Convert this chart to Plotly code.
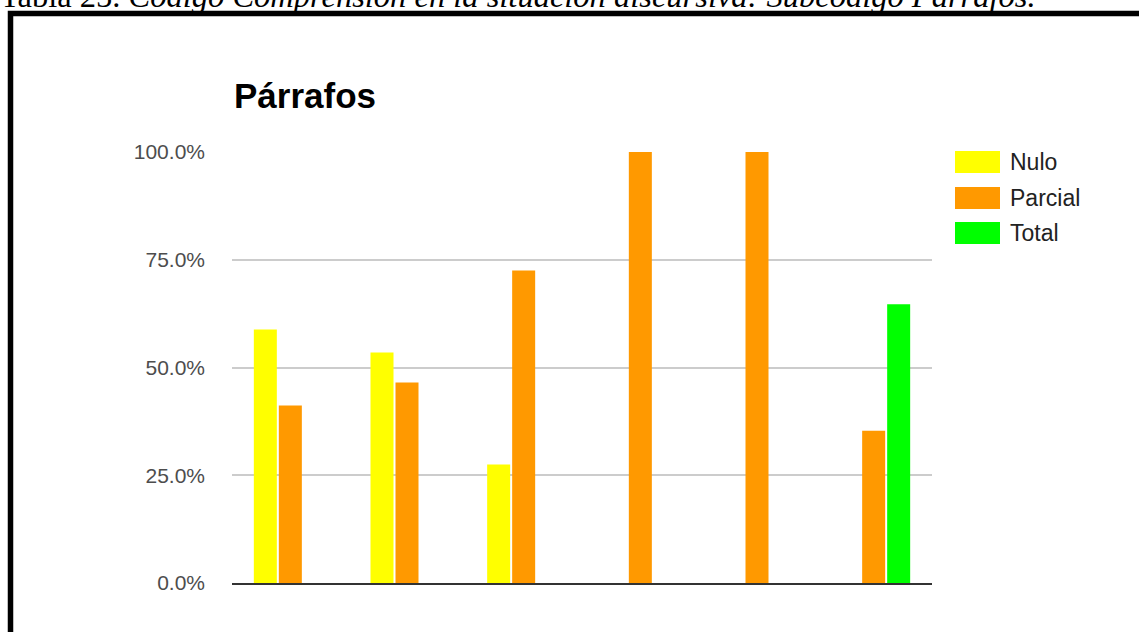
import plotly.graph_objects as go

# Six paragraph items, three response levels (percent of answers)
categories = ["P1", "P2", "P3", "P4", "P5", "P6"]
series_names = ["Nulo", "Parcial", "Total"]
nulo = [58.8, 53.5, 27.5, None, None, None]
parcial = [41.2, 46.5, 72.5, 100.0, 100.0, 35.3]
total = [None, None, None, None, None, 64.7]
series_values = [nulo, parcial, total]
series_colors = ["#ffff00", "#ff9900", "#00ff00"]
y_ticks = [0, 25, 50, 75, 100]
y_tick_labels = [f"{v:.1f}%" for v in y_ticks]

W, H = 1139, 632
L, R, T, B = 232, 207, 152, 49
PW, PH = W - L - R, H - T - B


def px_x(px):
    return (px - L) / PW


def px_y(py):
    return (H - B - py) / PH


fig = go.Figure()
for name, vals, col in zip(series_names, series_values, series_colors):
    fig.add_trace(go.Bar(
        x=categories, y=vals, name=name,
        marker=dict(color=col, line=dict(width=0)),
        showlegend=False,
    ))

# Legend drawn as swatches + labels
legend_rows = [162, 198, 233]
for name, col, yc in zip(series_names, series_colors, legend_rows):
    fig.add_shape(type="rect", xref="paper", yref="paper",
                  x0=px_x(955), x1=px_x(1000),
                  y0=px_y(yc - 11), y1=px_y(yc + 11),
                  fillcolor=col, line=dict(width=0))
    fig.add_annotation(xref="paper", yref="paper", x=px_x(1008), y=px_y(yc),
                       xanchor="left", yanchor="middle", showarrow=False,
                       text=name,
                       font=dict(family="Liberation Sans, Arial", size=23, color="#222222"))

# Chart title
fig.add_annotation(xref="paper", yref="paper", x=0, y=px_y(96),
                   xanchor="left", yanchor="middle", showarrow=False,
                   text="<b>Párrafos</b>",
                   font=dict(family="Liberation Sans, Arial", size=35, color="#000000"))

# Table caption above the frame
fig.add_annotation(xref="paper", yref="paper", x=px_x(-2), y=px_y(16),
                   xanchor="left", yanchor="bottom", showarrow=False,
                   text="Tabla 25. <i>Código Comprensión en la situación discursiva: Subcódigo Párrafos.</i>",
                   font=dict(family="Liberation Serif, Times New Roman", size=32.5, color="#000000"))

# Frame around the chart
fig.add_shape(type="rect", xref="paper", yref="paper",
              x0=px_x(10.5), x1=px_x(1160), y0=px_y(660), y1=px_y(13.5),
              line=dict(color="#000000", width=5.5), fillcolor="rgba(0,0,0,0)")

fig.update_layout(
    width=W, height=H,
    margin=dict(l=L, r=R, t=T, b=B),
    paper_bgcolor="white", plot_bgcolor="white",
    barmode="group", bargap=0.357, bargroupgap=0.08,
    xaxis=dict(showticklabels=False, ticks="", showgrid=False,
               showline=True, linecolor="#333333", linewidth=2, zeroline=False),
    yaxis=dict(range=[0, 100], tickvals=y_ticks, ticktext=y_tick_labels,
               showgrid=True, gridcolor="#cccccc", gridwidth=1.5, zeroline=False,
               ticks="", ticklabelstandoff=26,
               tickfont=dict(family="Liberation Sans, Arial", size=21, color="#4d4d4d")),
)

fig.write_html("out.html")
